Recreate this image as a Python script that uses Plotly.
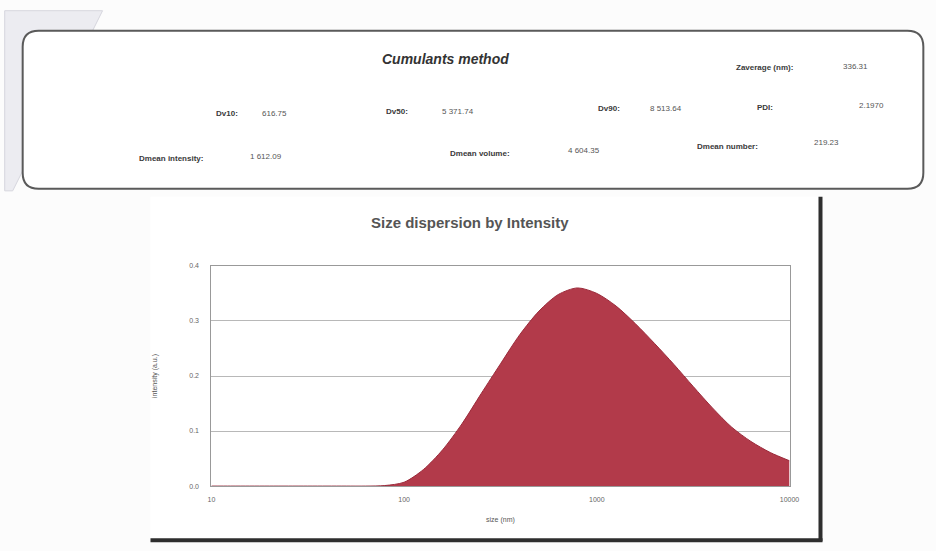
import plotly.graph_objects as go

# ---- data ----
size_nm = [10, 12.6, 15.8, 20, 25.1, 31.6, 39.8, 50.1, 63.1, 79.4,
           100, 125.9, 158.5, 199.5, 251.2, 316.2, 398.1, 501.2, 631, 794.3,
           1000, 1259, 1585, 1995, 2512, 3162, 3981, 5012, 6310, 7943, 10000]
intensity = [0, 0, 0, 0, 0, 0, 0, 0, 0.0, 0.001,
             0.007, 0.030, 0.066, 0.113, 0.168, 0.222, 0.275, 0.318, 0.348, 0.360,
             0.350, 0.327, 0.295, 0.259, 0.221, 0.181, 0.142, 0.107, 0.081, 0.061, 0.046]
x_tick_vals = [10, 100, 1000, 10000]
x_tick_text = ["10", "100", "1000", "10000"]
y_tick_vals = [0.0, 0.1, 0.2, 0.3, 0.4]

header_title = "Cumulants method"
header_labels = ["Zaverage (nm):", "Dv10:", "Dv50:", "Dv90:", "PDI:",
                 "Dmean intensity:", "Dmean volume:", "Dmean number:"]
header_values = ["336.31", "616.75", "5 371.74", "8 513.64", "2.1970",
                 "1 612.09", "4 604.35", "219.23"]
chart_title = "Size dispersion by Intensity"
x_title = "size (nm)"
y_title = "intensity (a.u.)"

W, H = 936, 551
# the captured page comes out slightly scaled; pre-compensate target pixel positions
SC, OFF = 0.9865, 3.3


def px(x):
    return ((x - OFF) / SC) / W


def py(y):
    return 1 - ((y - OFF) / SC) / H


fig = go.Figure()
fig.add_trace(go.Scatter(
    x=size_nm, y=intensity, mode="lines", fill="tozeroy",
    fillcolor="#b23a4a", line=dict(color="#9a2a3a", width=1, shape="spline", smoothing=0.8),
    hoverinfo="x+y", showlegend=False))

FONT = "Liberation Sans, Arial, sans-serif"

fig.update_layout(
    width=W, height=H,
    margin=dict(l=0, r=0, t=0, b=0),
    paper_bgcolor="#fcfcfc",
    plot_bgcolor="white",
    font=dict(family=FONT, color="#555"),
    xaxis=dict(type="log", range=[1, 4], domain=[px(211), px(790)],
               tickvals=x_tick_vals, ticktext=x_tick_text,
               tickfont=dict(size=7, color="#666"), showgrid=False,
               showline=True, linecolor="#999", linewidth=1, mirror=True,
               ticks="", zeroline=False, ticklabelstandoff=7,
               title=dict(text=x_title, font=dict(size=7, color="#555"), standoff=14)),
    yaxis=dict(range=[0, 0.4], domain=[py(485), py(265)],
               tickvals=y_tick_vals, tickformat=".1f",
               tickfont=dict(size=7, color="#666"),
               showgrid=True, gridcolor="#b8b8b8", gridwidth=1,
               showline=True, linecolor="#999", linewidth=1, mirror=True,
               ticks="", zeroline=False, ticklabelstandoff=10,
               title=dict(text=y_title, font=dict(size=7, color="#555"), standoff=30)),
)

shapes = []
# page curl in the top-left corner
shapes.append(dict(type="path", xref="paper", yref="paper",
                   path=f"M {px(4)},{py(10)} L {px(102)},{py(10)} L {px(12)},{py(190)} L {px(4)},{py(190)} Z",
                   fillcolor="#ececf1", line=dict(color="#d6d6de", width=1), layer="below"))
# rounded header box
x0, x1, y0, y1, r = 22, 924, 30, 188, 16
path = (f"M {px(x0 + r)},{py(y0)} L {px(x1 - r)},{py(y0)} "
        f"Q {px(x1)},{py(y0)} {px(x1)},{py(y0 + r)} L {px(x1)},{py(y1 - r)} "
        f"Q {px(x1)},{py(y1)} {px(x1 - r)},{py(y1)} L {px(x0 + r)},{py(y1)} "
        f"Q {px(x0)},{py(y1)} {px(x0)},{py(y1 - r)} L {px(x0)},{py(y0 + r)} "
        f"Q {px(x0)},{py(y0)} {px(x0 + r)},{py(y0)} Z")
shapes.append(dict(type="path", xref="paper", yref="paper", path=path,
                   fillcolor="white", line=dict(color="#5a5a5a", width=2), layer="below"))
# chart panel with heavy shadow edges
shapes.append(dict(type="rect", xref="paper", yref="paper",
                   x0=px(150), x1=px(820), y0=py(538), y1=py(196),
                   fillcolor="white", line=dict(width=0), layer="below"))
shapes.append(dict(type="line", xref="paper", yref="paper",
                   x0=px(821), x1=px(821), y0=py(196), y1=py(540),
                   line=dict(color="#2e2e2e", width=4)))
shapes.append(dict(type="line", xref="paper", yref="paper",
                   x0=px(150), x1=px(823), y0=py(539), y1=py(539),
                   line=dict(color="#2e2e2e", width=4)))
fig.update_layout(shapes=shapes)

ann = []


def text(t, x, y, size=8, bold=False, italic=False, anchor="left", color="#444"):
    s = t
    if bold:
        s = f"<b>{s}</b>"
    if italic:
        s = f"<i>{s}</i>"
    ann.append(dict(text=s, x=px(x), y=py(y), xref="paper", yref="paper",
                    xanchor=anchor, yanchor="middle", showarrow=False,
                    font=dict(size=size, color=color, family=FONT)))


text(header_title, 445, 58, size=14, bold=True, italic=True, anchor="center", color="#333")
# label positions (right edge x, y) and value positions (left x, y)
lab_pos = [(795, 67), (240, 113), (410, 111), (622, 108), (775, 107),
           (205, 158), (512, 153), (760, 146)]
val_pos = [(842, 66), (260, 113), (440, 111), (648, 108), (858, 105),
           (248, 156), (566, 150), (812, 142)]
for lab, val, lp, vp in zip(header_labels, header_values, lab_pos, val_pos):
    text(lab, lp[0], lp[1], size=8, bold=True, anchor="right", color="#3a3a3a")
    text(val, vp[0], vp[1], size=8, anchor="left", color="#555")

text(chart_title, 470, 222, size=15, bold=True, anchor="center", color="#555")
fig.update_layout(annotations=ann)

fig.write_html(
    "out.html",
    config={"displayModeBar": False},
    post_script=("document.documentElement.style.margin='0';"
                 "document.documentElement.style.overflow='hidden';"
                 "document.body.style.margin='0';document.body.style.padding='0';"
                 "document.body.style.overflow='hidden';"))
